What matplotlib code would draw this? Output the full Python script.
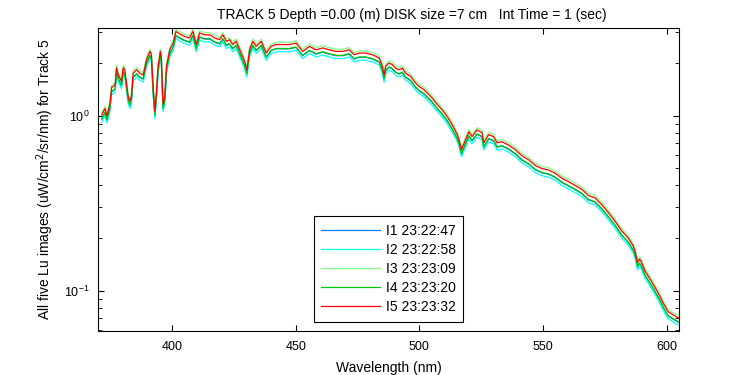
import numpy as np
import matplotlib
matplotlib.use('Agg')
import matplotlib.pyplot as plt
from matplotlib.ticker import NullFormatter, LogLocator

plt.rcParams['font.family'] = ['Liberation Sans', 'DejaVu Sans']
plt.rcParams['font.size'] = 10

# wavelength (nm) and Lu of image I5
wavelength = [371.5, 372.8, 373.6, 374.8, 375.5, 376.9, 377.5, 378.2, 379.5, 380.2,
              380.8, 382.2, 382.9, 383.5, 384.2, 385.6, 386.9, 388.3, 389.6, 391.0,
              391.6, 392.3, 393.0, 393.6, 394.3, 395.2, 395.6, 396.3, 397.0, 397.7,
              399.0, 400.4, 401.5, 402.4, 403.7, 405.0, 407.0, 408.4, 409.7, 411.1,
              413.1, 415.2, 417.2, 419.2, 420.5, 421.9, 423.2, 424.5, 425.9, 427.9,
              429.3, 430.2, 431.3, 432.6, 434.0, 436.0, 438.0, 440.0, 442.0, 444.7,
              447.4, 450.1, 452.8, 455.5, 458.2, 460.9, 463.5, 466.2, 468.9, 471.6,
              473.6, 475.6, 478.3, 481.0, 483.7, 485.0, 485.7, 486.4, 487.7, 489.0,
              490.4, 491.7, 493.1, 494.4, 496.4, 498.4, 499.8, 501.8, 503.8, 505.2,
              507.2, 509.2, 511.2, 513.2, 515.3, 516.0, 517.0, 518.5, 520.0, 521.3,
              523.3, 525.3, 526.0, 528.0, 530.0, 531.4, 533.4, 536.1, 538.8, 541.5,
              544.2, 546.9, 549.5, 552.2, 554.9, 557.6, 560.3, 563.0, 565.7, 568.4,
              571.0, 573.8, 576.4, 579.1, 581.8, 584.5, 586.5, 587.4, 588.2, 589.0,
              589.8, 591.2, 593.9, 596.6, 598.6, 600.6, 602.6, 604.0, 605.0]
lu_i5 = [1.01, 1.10, 1.00, 1.16, 1.45, 1.50, 1.88, 1.71, 1.57, 1.88,
         1.83, 1.29, 1.21, 1.29, 1.75, 1.83, 1.75, 1.71, 2.09, 2.33,
         2.23, 1.44, 1.06, 1.35, 1.92, 2.33, 2.18, 1.16, 1.29, 1.92,
         2.38, 2.60, 3.03, 2.97, 2.90, 2.84, 2.78, 3.03, 2.55, 2.97,
         2.90, 2.90, 2.78, 2.72, 2.90, 2.66, 2.72, 2.55, 2.66, 2.28,
         2.04, 1.83, 2.38, 2.66, 2.49, 2.66, 2.28, 2.49, 2.55, 2.55,
         2.55, 2.60, 2.33, 2.49, 2.38, 2.44, 2.38, 2.33, 2.33, 2.38,
         2.23, 2.28, 2.28, 2.23, 2.14, 1.92, 1.71, 1.92, 2.00, 1.96,
         1.87, 1.83, 1.87, 1.75, 1.68, 1.54, 1.47, 1.41, 1.32, 1.26,
         1.16, 1.08, 0.99, 0.89, 0.78, 0.73, 0.64, 0.72, 0.81, 0.76,
         0.83, 0.80, 0.70, 0.78, 0.76, 0.70, 0.71, 0.68, 0.64, 0.59,
         0.56, 0.52, 0.50, 0.49, 0.47, 0.44, 0.42, 0.40, 0.38, 0.35,
         0.34, 0.31, 0.28, 0.25, 0.22, 0.20, 0.18, 0.165, 0.145, 0.152,
         0.146, 0.13, 0.113, 0.097, 0.085, 0.076, 0.073, 0.071, 0.070]

# level of each image relative to I5
labels = ['I1 23:22:47', 'I2 23:22:58', 'I3 23:23:09', 'I4 23:23:20', 'I5 23:23:32']
ratios = [0.945, 0.91, 1.03, 0.95, 1.0]
colors = ['#0080ff', '#00ffff', '#80ff80', '#00c800', '#ff0000']

wl = np.array(wavelength)
base = np.array(lu_i5)

fig = plt.figure(figsize=(7.5, 3.75), dpi=100)
ax = fig.add_axes([0.1307, 0.1173, 0.7747, 0.808])

for lab, r, c in zip(labels, ratios, colors):
    ax.plot(wl, base * r, color=c, lw=0.9, label=lab)

ax.set_yscale('log')
ax.set_xlim(370, 605)
ax.set_ylim(0.059, 3.17)
ax.set_xticks([400, 450, 500, 550, 600])
ax.yaxis.set_minor_locator(LogLocator(base=10, subs=np.arange(2, 10)))
ax.yaxis.set_minor_formatter(NullFormatter())
ax.tick_params(which='both', direction='in', top=True, right=True, labelsize=9)
ax.tick_params(axis='x', which='major', length=4.3, pad=7)
ax.tick_params(axis='y', which='major', length=4.3, pad=6)
ax.tick_params(which='minor', length=3)
for s in ax.spines.values():
    s.set_linewidth(0.8)

fig.text(411.5 / 750, 1 - 14.5 / 375, 'TRACK 5 Depth =0.00 (m) DISK size =7 cm   Int Time = 1 (sec)',
         ha='center', va='center', fontsize=10)
ax.set_xlabel('Wavelength (nm)', labelpad=6)
ax.set_ylabel('All five Lu images (uW/cm$^2$/sr/nm) for Track 5', labelpad=6)

leg = ax.legend(loc='lower center', bbox_to_anchor=(0.5, 0.03), borderaxespad=0,
                fancybox=False, edgecolor='black', framealpha=1, handlelength=4.2,
                handletextpad=0.45, labelspacing=0.37, borderpad=0.55, fontsize=10)
leg.get_frame().set_linewidth(0.8)

fig.savefig('out.png', dpi=100)
